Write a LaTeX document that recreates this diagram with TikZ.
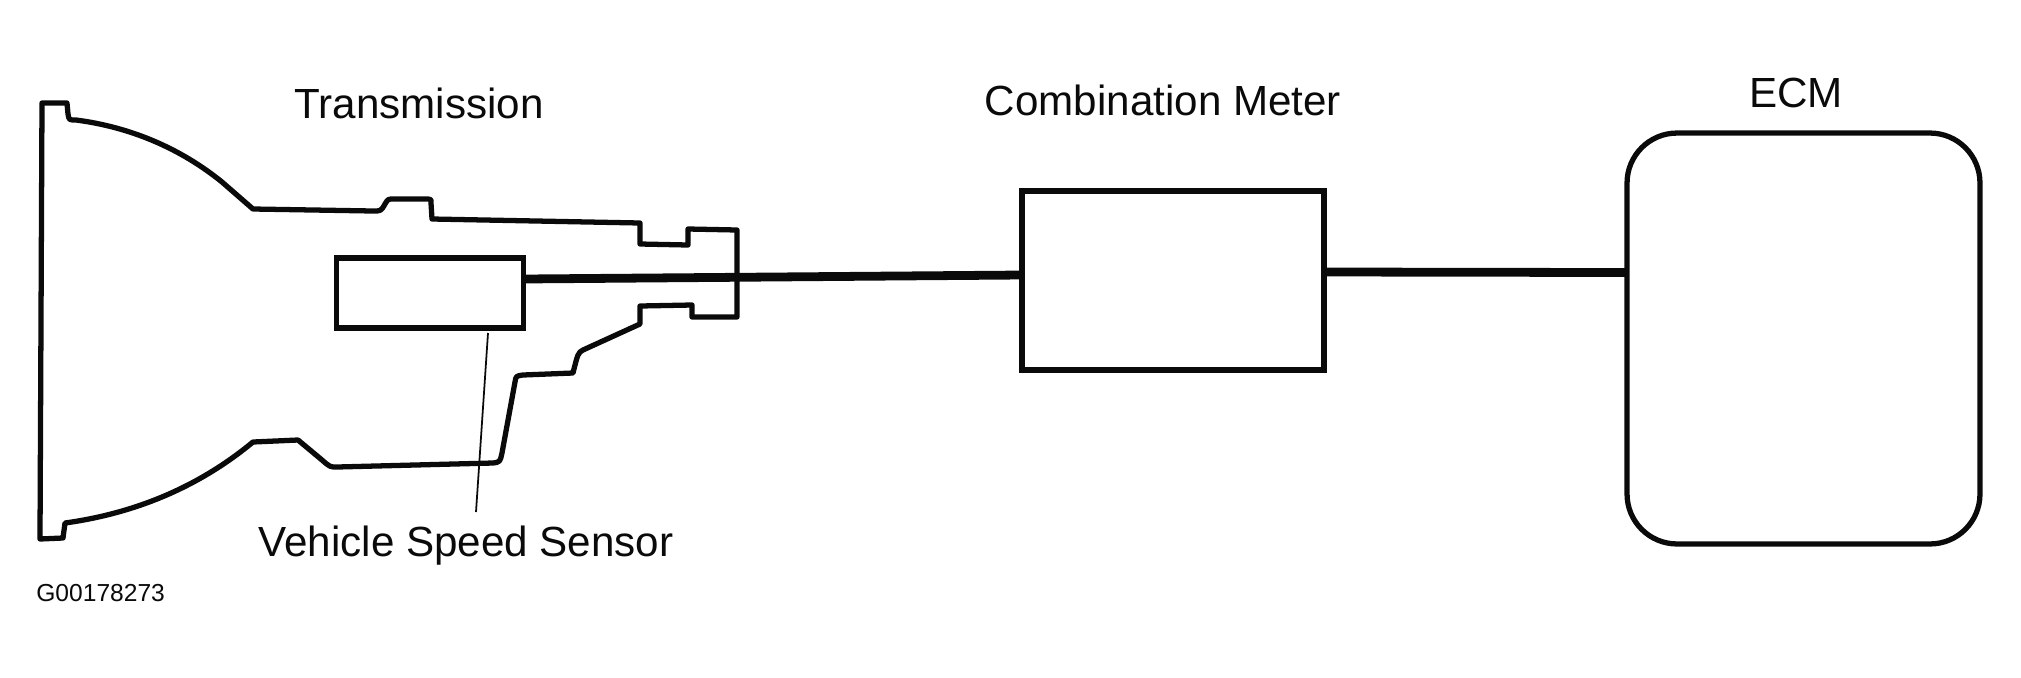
\documentclass[tikz,border=0pt]{standalone}
\usepackage{fontspec}
\setmainfont{Liberation Sans}
\usetikzlibrary{calc}
\definecolor{ink}{HTML}{0A0A0A}
\tikzset{
  unitbox/.style={draw=ink,line width=3pt,inner sep=0pt,outer sep=0pt},
  wire/.style={draw=ink,line width=5pt},
  caption/.style={text=ink,font=\fontsize{24}{28}\selectfont,inner sep=0pt},
}
\begin{document}
\begin{tikzpicture}[x=.02cm,y=-.02cm]
\useasboundingbox (0,0) rectangle (2021,677);
% housing
\draw[ink,line width=3pt,line join=round] (42,103)--(67,103)--(68,114)
  .. controls (69,120) .. (76,120)
  .. controls (130,127) and (180,148) .. (222,182)--(253,209)--(373,211)
  .. controls (381,211) .. (385,204) .. controls (388,199) .. (394,199)--(428,199)
  .. controls (431,199) .. (431,203)--(432,219)--(640,223)--(640,244)--(688,245)--(688,229)--(737,230)
  --(737,317)--(692,317)--(692,305)--(640,306)--(640,324)--(583,350)
  .. controls (578,353) .. (573,373)--(523,375) .. controls (516,376) .. (515,382)--(502,453)
  .. controls (500,462) .. (493,463)--(337,467) .. controls (330,467) .. (322,460)--(298,440)--(253,442)
  .. controls (195,490) and (130,514) .. (65,523)--(63,538)--(40,539)--cycle;
\node[unitbox,minimum width=3.74cm,minimum height=1.4cm] (sensor) at (430,293) {};
\node[unitbox,minimum width=6.04cm,minimum height=3.58cm] (meter) at (1173,280.5) {};
\node[unitbox,rounded corners=1cm,minimum width=7.06cm,minimum height=8.22cm] (ecm) at (1803.5,338.5) {};
% wires
\draw[wire] ([yshift=.28cm]sensor.east)--([yshift=.11cm]meter.west);
\draw[wire] ([yshift=.17cm]meter.east)--([yshift=1.32cm]ecm.west);
% labels
\node[caption] (translabel) at (419,103) {Transmission};
\node[caption] (meterlabel) at (1163,100) {Combination Meter};
\node[caption] (ecmlabel) at (1796,93) {ECM};
\node[caption] (sensorlabel) at (466,546) {Vehicle Speed Sensor};
\node[text=ink,font=\fontsize{14}{16}\selectfont,inner sep=0pt,anchor=west] (figcode) at (36,593) {G00178273};
% leader
\coordinate (leadtop) at (488,333);
\coordinate (leadend) at (476,512);
\draw[ink,line width=1pt] (leadtop)--(leadend);
\end{tikzpicture}
\end{document}
